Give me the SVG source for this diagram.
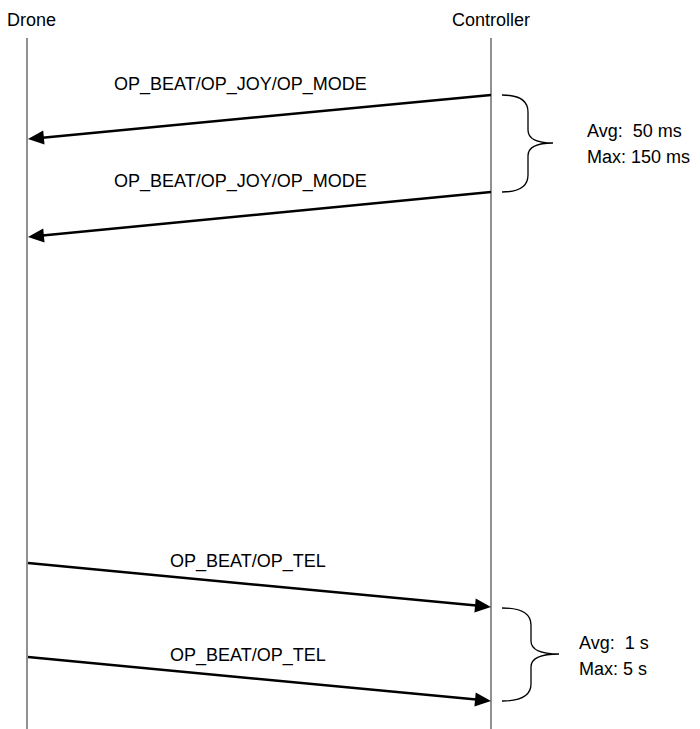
<svg xmlns="http://www.w3.org/2000/svg" width="700" height="729" viewBox="0 0 700 729">
<style>
text{font-family:"Liberation Sans",Arial,sans-serif;font-size:18px;fill:#000;white-space:pre}
.life{stroke:#555;stroke-width:1.3;fill:none}
.msg{stroke:#000;stroke-width:2.5;fill:none;marker-end:url(#ah)}
.brace{stroke:#000;stroke-width:1.3;fill:none}
</style>
<defs>
<marker id="ah" markerUnits="userSpaceOnUse" markerWidth="20" markerHeight="20" refX="4" refY="0" orient="auto" overflow="visible">
<path d="M0,-7 L16,0 L0,7 z" fill="#000"/>
</marker>
</defs>
<rect width="700" height="729" fill="#fff"/>
<g id="drone">
<text x="7" y="26">Drone</text>
<line class="life" x1="27" y1="38" x2="27" y2="729"/>
</g>
<g id="controller">
<text x="452" y="26">Controller</text>
<line class="life" x1="491" y1="38" x2="491" y2="729"/>
</g>
<g id="connectors">
<line class="msg" x1="491" y1="95" x2="39.9" y2="137.9"/>
<line class="msg" x1="491" y1="192" x2="39.9" y2="235.8"/>
<line class="msg" x1="28" y1="563" x2="479.05" y2="605.86"/>
<line class="msg" x1="28" y1="657" x2="479.05" y2="699.86"/>
</g>
<g id="labels">
<text x="114" y="90">OP_BEAT/OP_JOY/OP_MODE</text>
<text x="114" y="187">OP_BEAT/OP_JOY/OP_MODE</text>
<text x="170" y="567">OP_BEAT/OP_TEL</text>
<text x="170" y="661">OP_BEAT/OP_TEL</text>
</g>
<g id="brace-top">
<path class="brace" d="M502,95 Q528,95 528,112 L528,130 Q528,143 553,143 Q528,143 528,156 L528,175 Q528,192 502,192"/>
<text x="587" y="137">Avg:  50 ms</text>
<text x="587" y="163">Max: 150 ms</text>
</g>
<g id="brace-bottom">
<path class="brace" d="M502,608 Q531,608 531,625 L531,641 Q531,654 559,654 Q531,654 531,667 L531,684 Q531,701 502,701"/>
<text x="579" y="649">Avg:  1 s</text>
<text x="579" y="675">Max: 5 s</text>
</g>
</svg>
